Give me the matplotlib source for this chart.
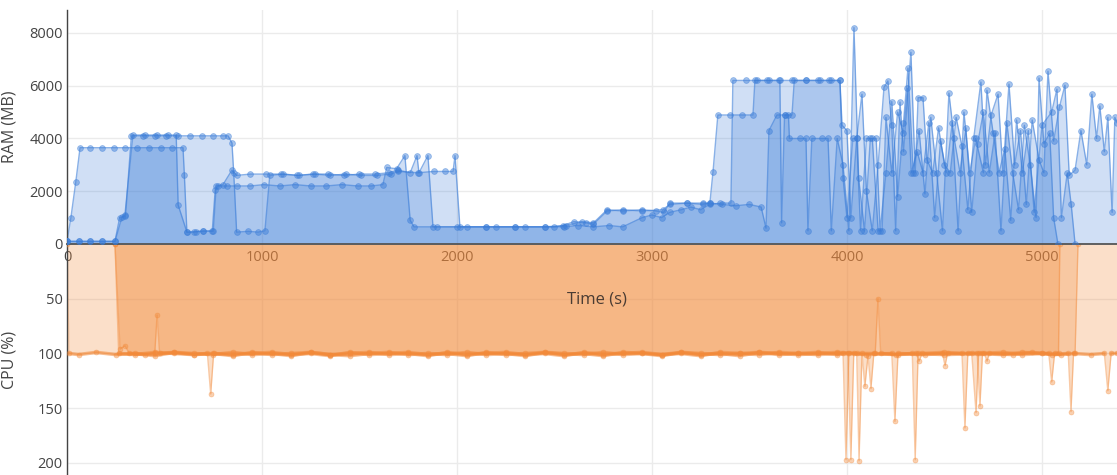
import matplotlib
matplotlib.use("Agg")
import matplotlib.pyplot as plt
import numpy as np

plt.rcParams['font.family'] = ['Open Sans', 'DejaVu Sans']

# ---------------- data (time s, value) ----------------
ram_run1 = [(0,100),(20,1000),(45,2350),(67,3650),(120,3650),(180,3650),(240,3650),(300,3650),(360,3650),
            (420,3650),(480,3650),(540,3650),(595,3650),(602,2600),(615,450),(660,470),(700,480),(745,500),
            (760,2050),(775,2200),(820,2200),(870,2200),(940,2200),(1010,2250),(1090,2200),(1170,2250),
            (1250,2200),(1330,2200),(1410,2250),(1490,2200),(1560,2200),(1620,2250),(1640,2900),(1690,2850),
            (1733,3350),(1760,900),(1780,650),(1900,650),(2050,650),(2200,650),(2350,650),(2500,650),
            (2545,700),(2600,850),(2660,800),(2700,750),(2770,1250),(2850,1300),(2950,1250),(3055,1300),
            (3092,1500),(3180,1550),(3260,1500),(3300,1550),(3360,1500),(3430,1450),(3500,1500),(3560,1400),
            (3585,600),(3600,4300),(3641,4890),(3680,4890),(3700,4890),(3705,4000),(3760,4000),(3790,4000),
            (3800,500),(3820,4000),(3870,4000),(3903,4000),(3920,500),(3950,4000),(3980,3000),(4010,500),
            (4036,8200),(4060,2500),(4090,500),(4120,4000),(4150,4000),(4170,500),(4200,2700),(4230,5400),
            (4260,1800),(4290,4600),(4313,6670),(4340,2700),(4370,4300),(4400,1900),(4430,4800),(4460,2700),
            (4490,500),(4523,5720),(4550,4000),(4580,2700),(4610,4400),(4640,1200),(4670,3800),(4700,5000),
            (4730,2700),(4760,4200),(4790,500),(4820,4600),(4850,2700),(4880,1300),(4910,4500),(4940,3000),
            (4970,1000),(4985,6290),(5010,3800),(5040,4200),(5060,1000),(5082,0)]

ram_run2 = [(0,100),(60,100),(120,100),(180,100),(246,100),(282,1020),(297,1100),(338,4130),(400,4130),
            (460,4130),(520,4130),(560,4130),(570,1480),(615,450),(650,450),(700,500),(750,480),(765,2200),
            (800,2250),(846,2800),(870,2600),(940,2650),(1020,2650),(1100,2650),(1180,2600),(1260,2650),
            (1340,2650),(1420,2600),(1500,2650),(1580,2650),(1650,2700),(1700,2800),(1760,2700),(1795,3350),
            (1805,2700),(1851,3350),(1877,650),(2000,650),(2150,650),(2300,650),(2450,650),(2550,650),
            (2620,700),(2700,650),(2780,700),(2850,650),(2950,1000),(3000,1100),(3050,1000),(3092,1200),
            (3150,1300),(3200,1400),(3250,1300),(3297,1500),(3350,1550),(3405,1550),(3415,6200),(3480,6200),
            (3540,6200),(3600,6200),(3656,6200),(3665,800),(3680,4890),(3718,4890),(3730,6200),(3790,6200),
            (3850,6200),(3910,6200),(3964,6200),(3975,4500),(4000,4300),(4020,1000),(4050,4000),(4077,5680),
            (4100,2000),(4130,500),(4160,3000),(4190,5940),(4210,6180),(4230,4500),(4250,500),(4272,5380),
            (4290,3500),(4328,7270),(4350,2700),(4365,5550),(4390,5550),(4410,3200),(4440,2700),(4470,4400),
            (4500,3000),(4530,2700),(4560,4800),(4590,3700),(4620,1300),(4650,4000),(4687,6140),(4710,3000),
            (4740,4900),(4775,5680),(4800,2700),(4831,6060),(4860,3000),(4890,4300),(4920,1500),(4950,4700),
            (4985,3200),(5010,2700),(5031,6550),(5060,3900),(5090,5200),(5118,6020),(5140,2600),(5170,2800),
            (5200,4300),(5230,3000),(5256,5680),(5280,4000),(5297,5230),(5320,3500),(5338,4800),(5360,1200),
            (5374,4800),(5385,4600)]

ram_run3 = [(0,100),(60,100),(120,100),(180,100),(246,100),(270,1000),(300,1050),(330,4100),(390,4100),
            (450,4100),(510,4100),(570,4100),(630,4100),(690,4100),(750,4100),(800,4100),(826,4100),
            (846,3830),(855,2700),(870,450),(930,480),(980,450),(1015,500),(1040,2600),(1110,2650),
            (1190,2600),(1270,2650),(1350,2600),(1430,2650),(1510,2600),(1590,2600),(1660,2650),(1700,2750),
            (1800,2700),(1880,2750),(1940,2750),(1980,2750),(1990,3350),(2015,650),(2150,650),(2300,650),
            (2450,650),(2560,700),(2640,850),(2700,800),(2770,1300),(2850,1250),(2950,1300),(3020,1250),
            (3060,1200),(3092,1550),(3180,1550),(3260,1550),(3297,1550),(3313,2730),(3338,4890),(3400,4890),
            (3460,4890),(3518,4890),(3528,6200),(3590,6200),(3650,6200),(3720,6200),(3790,6200),(3860,6200),
            (3920,6200),(3964,6200),(3980,2500),(4000,1000),(4030,4000),(4050,4000),(4070,500),(4100,4000),
            (4130,4000),(4160,500),(4180,500),(4200,4800),(4230,2700),(4260,5000),(4290,4200),(4310,5900),
            (4330,2700),(4360,3500),(4390,2700),(4420,4600),(4450,1000),(4480,3900),(4510,2700),(4540,4600),
            (4570,500),(4600,5000),(4630,2700),(4660,4000),(4700,2700),(4718,5830),(4750,4200),(4780,2700),
            (4810,3600),(4840,900),(4870,4700),(4900,2700),(4930,4300),(4960,1200),(5000,4500),(5050,5000),
            (5077,5870),(5100,1000),(5130,2700),(5150,1500),(5170,0)]

cpu_run1 = [(0,0),(10,100),(60,101),(150,99),(250,101),(350,100),(450,102),(550,99),(650,100),(750,101),
            (850,99),(950,101),(1050,100),(1150,102),(1250,99),(1350,101),(1450,100),(1550,99),(1650,101),
            (1750,100),(1850,102),(1950,99),(2050,101),(2150,100),(2250,99),(2350,101),(2450,100),(2550,102),
            (2650,99),(2750,101),(2850,100),(2950,99),(3050,101),(3150,100),(3250,102),(3350,99),(3450,100),
            (3550,101),(3650,99),(3750,100),(3850,101),(3950,100),(3980,100),(3995,197),(4010,100),(4100,101),
            (4230,100),(4246,162),(4262,100),(4400,101),(4490,100),(4503,111),(4516,100),(4640,100),(4662,154),
            (4675,100),(4800,101),(4900,99),(5000,100),(5035,100),(5050,126),(5065,100),(5085,100),(5092,0)]

cpu_run2 = [(246,0),(272,96),(297,93),(320,100),(400,101),(450,100),(462,65),(475,100),(550,99),(650,101),
            (750,100),(850,102),(950,99),(1050,101),(1150,100),(1250,99),(1350,101),(1450,102),(1550,100),
            (1650,99),(1750,101),(1850,100),(1950,101),(2050,99),(2150,101),(2250,100),(2350,102),(2450,99),
            (2550,100),(2650,101),(2750,99),(2850,101),(2950,100),(3050,102),(3150,99),(3250,100),(3350,101),
            (3450,100),(3550,99),(3650,101),(3750,100),(3850,99),(3950,101),(4005,100),(4020,197),(4035,100),
            (4145,100),(4159,50),(4173,100),(4260,101),(4355,100),(4370,107),(4385,100),(4500,99),(4590,100),
            (4605,168),(4620,100),(4705,100),(4718,107),(4730,100),(4850,101),(4950,99),(5050,101),(5135,100),
            (5149,153),(5162,100),(5250,101),(5320,100),(5338,134),(5355,100),(5385,100)]

cpu_run3 = [(246,0),(265,100),(350,101),(450,99),(550,100),(650,101),(720,100),(737,137),(752,100),
            (850,101),(950,100),(1050,99),(1150,101),(1250,100),(1350,102),(1450,99),(1550,101),(1650,100),
            (1750,99),(1850,101),(1950,100),(2050,102),(2150,99),(2250,101),(2350,100),(2450,99),(2550,101),
            (2650,100),(2750,102),(2850,99),(2950,100),(3050,101),(3150,99),(3250,101),(3350,100),(3450,102),
            (3550,99),(3650,100),(3750,101),(3850,100),(3950,99),(4050,100),(4062,198),(4077,100),(4092,130),
            (4108,102),(4123,132),(4138,100),(4250,101),(4335,100),(4350,197),(4365,100),(4500,101),(4668,100),
            (4682,148),(4695,100),(4800,99),(4900,101),(5000,100),(5100,101),(5170,100),(5185,0)]

ram_ticks = [0, 2000, 4000, 6000, 8000]
cpu_ticks = [50, 100, 150, 200]
time_ticks = [0, 1000, 2000, 3000, 4000, 5000]

# ---------------- styling ----------------
BLUE = '#3b7dd8'
ORANGE = '#f28a3a'
TXT = '#444444'
GRID = '#ebebeb'
W, H = 1117, 475

fig = plt.figure(figsize=(W/100, H/100), dpi=100)
left = 67/W
ax2 = fig.add_axes([left, 0, 1-left, 231/H])
ax1 = fig.add_axes([left, 1-244/H, 1-left, 234/H], sharex=ax2)
ax1.patch.set_alpha(0)

for ax in (ax1, ax2):
    ax.set_axisbelow(True)
    ax.grid(True, color=GRID, lw=1)
    for s in ('top', 'right'):
        ax.spines[s].set_visible(False)
    ax.spines['left'].set_color(TXT)
    ax.spines['left'].set_linewidth(1.0)
    ax.tick_params(length=0, labelsize=10.5, labelcolor=TXT)

ax1.spines['bottom'].set_color('#555555')
ax1.spines['bottom'].set_linewidth(1.3)
ax2.spines['bottom'].set_visible(False)

ax1.set_xlim(0, 5385)
ax1.set_ylim(0, 8870)
ax2.set_ylim(211, 0)

ax1.set_yticks(ram_ticks)
ax2.set_yticks(cpu_ticks)
ax1.set_xticks(time_ticks)
ax1.tick_params(axis='x', labelbottom=False)
ax2.tick_params(axis='x', labelbottom=False)
ax1.tick_params(axis='y', pad=3)
ax2.tick_params(axis='y', pad=3)

# time tick labels placed inside the CPU panel, under the fills
for t in time_ticks:
    ax2.text(t, 12, str(t), ha='center', va='center', fontsize=10.5, color=TXT, zorder=0.6)

for series in (ram_run1, ram_run2, ram_run3):
    t, v = np.array(series, dtype=float).T
    ax1.fill_between(t, 0, v, color=BLUE, alpha=0.24, lw=0, zorder=1)
    ax1.plot(t, v, color=BLUE, lw=1.0, alpha=0.6, zorder=2)
    ax1.plot(t, v, ls='none', marker='o', ms=4.2, mfc=BLUE, mec=BLUE, mew=0.6, alpha=0.45, zorder=3)

for series in (cpu_run1, cpu_run2, cpu_run3):
    t, v = np.array(series, dtype=float).T
    ax2.fill_between(t, 0, v, color=ORANGE, alpha=0.27, lw=0, zorder=1)
    ax2.plot(t, v, color=ORANGE, lw=1.0, alpha=0.45, zorder=2)
    ax2.plot(t, v, ls='none', marker='o', ms=3.6, mfc=ORANGE, mec=ORANGE, mew=0.5, alpha=0.4, zorder=3)
    # the sampled band near 100 % is dense: emphasise it
    band = np.where(np.abs(v - 100) <= 3, v, np.nan)
    ax2.plot(t, band, color=ORANGE, lw=2.6, alpha=0.55, zorder=2.5, solid_capstyle='round')

ax1.set_ylabel('RAM (MB)', fontsize=11.5, color=TXT)
ax2.set_ylabel('CPU (%)', fontsize=11.5, color=TXT)
ax1.yaxis.set_label_coords((18-67)/1050, 0.5)
ax2.yaxis.set_label_coords((18-67)/1050, 0.5)

ax2.text(2718, 51, 'Time (s)', ha='center', va='center', fontsize=12, color='#4a3c33', zorder=5)

fig.savefig('out.png', dpi=100)
